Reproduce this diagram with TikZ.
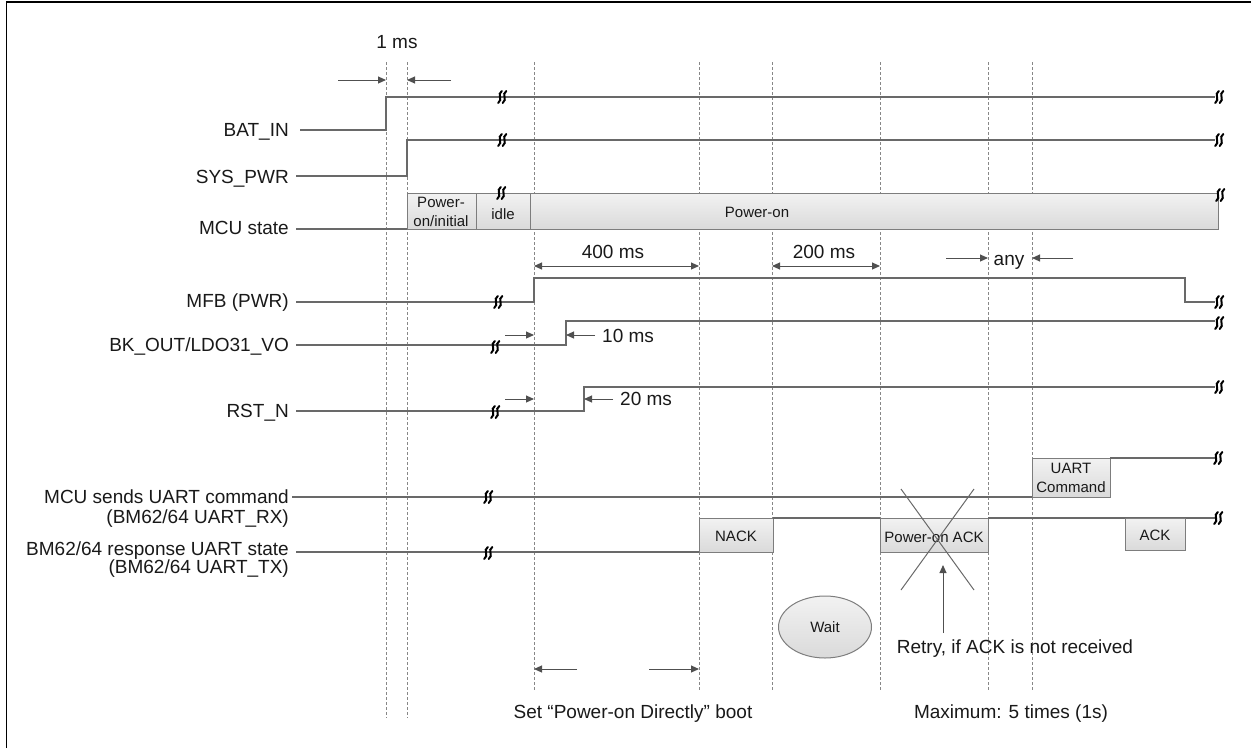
\documentclass[tikz,border=0pt]{standalone}
\usepackage{fontspec}
\setmainfont{Liberation Sans}
\usetikzlibrary{arrows.meta,shapes.geometric}
\definecolor{sigc}{RGB}{105,105,105}
\definecolor{gridc}{RGB}{135,135,135}
\definecolor{txtc}{RGB}{25,25,25}
\definecolor{arrc}{RGB}{80,80,80}
\definecolor{boxd}{RGB}{125,125,125}
\definecolor{boxt}{RGB}{242,242,242}
\definecolor{boxb}{RGB}{218,218,218}
\tikzset{
  sig/.style={draw=sigc, line width=1.1pt},
  gridl/.style={draw=gridc, line width=0.8pt, dash pattern=on 3pt off 2pt},
  dimarr/.style={draw=arrc, line width=1pt, -{Triangle[length=8pt,width=7pt]}},
  dimboth/.style={draw=arrc, line width=1pt, {Triangle[length=8pt,width=7pt]}-{Triangle[length=8pt,width=7pt]}},
  stbox/.style={draw=boxd, line width=1pt, top color=boxt, bottom color=boxb},
  lbl/.style={font=\fontsize{19}{22}\selectfont, text=txtc, inner sep=0pt},
  btxt/.style={font=\fontsize{15}{19}\selectfont, text=txtc, inner sep=0pt, align=center},
  brkst/.style={line width=2pt, draw=black, line cap=round},
  brk/.pic={
    \draw[brkst] (1.8,-6) .. controls (-3.5,-2.5) and (3.5,2) .. (-1.8,6);
    \draw[brkst] (6.3,-6) .. controls (1,-2.5) and (8,2) .. (2.7,6);
  }
}
\begin{document}
\begin{tikzpicture}[x=1pt,y=-1pt]
\useasboundingbox (0,0) rectangle (1251,748);
% frame
\draw[line width=1.5pt, black] (6.7,748) -- (6.7,1.8) -- (1251,1.8);

% dashed time markers
\foreach \xx in {386,407} { \draw[gridl] (\xx,62) -- (\xx,718); }
\foreach \xx in {534,699,772,880,988,1032} { \draw[gridl] (\xx,62) -- (\xx,690); }

% labels
\node[lbl, anchor=base east] (lbat) at (289,136) {BAT\_IN};
\node[lbl, anchor=base east] (lsys) at (289,183) {SYS\_PWR};
\node[lbl, anchor=base east] (lmcu) at (289,234) {MCU state};
\node[lbl, anchor=base east] (lmfb) at (289,307) {MFB (PWR)};
\node[lbl, anchor=base east] (lbk) at (289,351) {BK\_OUT/LDO31\_VO};
\node[lbl, anchor=base east] (lrst) at (289,417) {RST\_N};
\node[lbl, anchor=base east] (lrx1) at (289,503) {MCU sends UART command};
\node[lbl, anchor=base east] (lrx2) at (289,523) {(BM62/64 UART\_RX)};
\node[lbl, anchor=base east] (ltx1) at (289,555) {BM62/64 response UART state};
\node[lbl, anchor=base east] (ltx2) at (289,573) {(BM62/64 UART\_TX)};

% BAT_IN
\draw[sig] (300,130) -- (386,130) -- (386,97) -- (1215,97);
% SYS_PWR
\draw[sig] (296,176) -- (407,176) -- (407,140) -- (1215,140);
% MCU state
\draw[sig] (296,229) -- (407,229);
\draw[stbox] (407,193) rectangle (1218,229);
\draw[draw=boxd, line width=1pt] (476,193) -- (476,229) (530,193) -- (530,229);
\node[btxt] (tpi) at (441,212) {Power-\\on/initial};
\node[btxt] (tidle) at (503,214) {idle};
\node[btxt] (tpon) at (757,212) {Power-on};
% MFB
\draw[sig] (296,302) -- (534,302) -- (534,278) -- (1185,278) -- (1185,302) -- (1215,302);
% BK_OUT
\draw[sig] (296,345) -- (566,345) -- (566,321) -- (1215,321);
% RST_N
\draw[sig] (296,411) -- (584,411) -- (584,387) -- (1215,387);
% UART RX
\draw[sig] (292,497) -- (1032,497);
\draw[stbox] (1032,458) rectangle (1110,497);
\node[btxt] (tuc) at (1071,478) {UART\\Command};
\draw[sig] (1110,458) -- (1215,458);
% UART TX
\draw[sig] (296,552) -- (699,552);
\draw[stbox] (699,518) rectangle (773,552);
\node[btxt] (tnack) at (736,536) {NACK};
\draw[sig] (773,518) -- (880,518);
\draw[stbox] (880,518) rectangle (988,552);
\node[btxt] (tpack) at (934,537) {Power-on ACK};
\draw[sig] (988,518) -- (1215,518);
\draw[stbox] (1125,518) rectangle (1185,550);
\node[btxt] (tack) at (1155,535) {ACK};

% cross over Power-on ACK
\draw[draw=sigc, line width=1pt] (901,489) -- (974,590) (974,489) -- (901,590);

% break marks
\pic at (500,97) {brk};
\pic at (500,140) {brk};
\pic at (499,193) {brk};
\pic at (496,302) {brk};
\pic at (493,347) {brk};
\pic at (493,412) {brk};
\pic at (486,497) {brk};
\pic at (486,553) {brk};
\pic at (1217,97) {brk};
\pic at (1217,140) {brk};
\pic at (1218,195) {brk};
\pic at (1217,302) {brk};
\pic at (1217,323) {brk};
\pic at (1217,387) {brk};
\pic at (1216,458) {brk};
\pic at (1216,518) {brk};

% dimensions
\node[lbl, anchor=base] (t1ms) at (397,48) {1 ms};
\draw[dimarr] (338,80) -- (386,80);
\draw[dimarr] (451,80) -- (407,80);
\node[lbl, anchor=base] (t400) at (613,258) {400 ms};
\draw[dimboth] (534,266) -- (699,266);
\node[lbl, anchor=base] (t200) at (824,258) {200 ms};
\draw[dimboth] (772,266) -- (880,266);
\node[lbl, anchor=base] (tany) at (1009,265) {any};
\draw[dimarr] (946,258) -- (988,258);
\draw[dimarr] (1073,258) -- (1032,258);
\draw[dimarr] (505,335) -- (534,335);
\draw[dimarr] (595,335) -- (566,335);
\node[lbl, anchor=base west] (t10) at (602,342) {10 ms};
\draw[dimarr] (505,399) -- (534,399);
\draw[dimarr] (613,399) -- (584,399);
\node[lbl, anchor=base west] (t20) at (620,405) {20 ms};

% wait, retry
\node[ellipse, draw=boxd, line width=1pt, top color=boxt, bottom color=boxb, minimum width=93pt, minimum height=62pt, inner sep=0pt, font=\fontsize{15}{19}\selectfont, text=txtc] (wait) at (825,627) {Wait};
\coordinate (rtail) at (943,633);
\coordinate (rhead) at (943,565);
\draw[dimarr] (rtail) -- (rhead);
\node[lbl, anchor=base] (tretry) at (1015,653) {Retry, if ACK is not received};

% bottom
\draw[dimarr] (577,669) -- (534,669);
\draw[dimarr] (649,669) -- (699,669);
\node[lbl, anchor=base] (tset) at (633,718) {Set “Power-on Directly” boot};
\node[lbl, anchor=base] (tmax) at (1011,718) {Maximum: 5 times (1s)};
\end{tikzpicture}
\end{document}
